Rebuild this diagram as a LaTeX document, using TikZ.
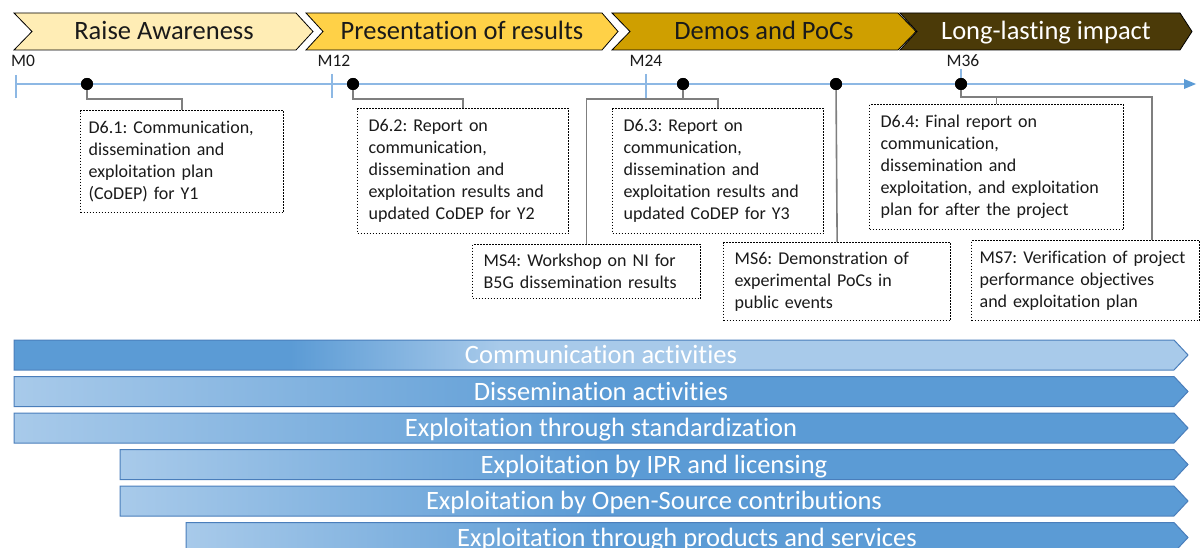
\documentclass[tikz,border=0pt]{standalone}
\usepackage{fontspec}
\setmainfont{Carlito}[Ligatures={NoCommon,NoRare,NoContextual},Contextuals=NoAlternate]
\frenchspacing
\usetikzlibrary{arrows.meta}
\definecolor{chA}{HTML}{FFEDB5}
\definecolor{chB}{HTML}{FFD147}
\definecolor{chC}{HTML}{CF9F00}
\definecolor{chD}{HTML}{4B3A08}
\definecolor{tlblue}{HTML}{8DB8E4}
\definecolor{tipblue}{HTML}{5B9BD5}
\definecolor{barD}{HTML}{5B9BD5}
\definecolor{barL}{HTML}{A8CAEA}
\definecolor{barE}{HTML}{4A7EBB}
\definecolor{conngray}{HTML}{7F7F7F}
\definecolor{txt}{HTML}{1A1A1A}
\tikzset{
  chev/.style={draw=black, line width=0.8pt},
  chevtext/.style={anchor=base, font=\fontsize{26.5}{30}\selectfont, text=txt, inner sep=0pt},
  mlabel/.style={anchor=base, font=\fontsize{17.5}{20}\selectfont, text=txt, inner sep=0pt},
  tline/.style={draw=tlblue, line width=1.2pt},
  tick/.style={draw=tlblue, line width=1.2pt},
  conn/.style={draw=conngray, line width=1.6pt},
  dotn/.style={circle, fill=black, inner sep=0pt, minimum size=12pt},
  infobox/.style={draw=black, line width=1.3pt, dash pattern=on 1.5pt off 1.5pt,
     anchor=north west, align=left, inner xsep=11pt, inner ysep=0pt,
     font=\fontsize{18}{22}\selectfont, text=txt, fill=white},
  barshape/.style 2 args={insert path={(#1,#2) -- (1174,#2) -- (1188,#2+15) -- (1174,#2+30) -- (#1,#2+30) -- cycle}},
  barline/.style={draw=barE, line width=1pt},
  bartext/.style={anchor=base, font=\fontsize{26.5}{30}\selectfont, text=white, inner sep=0pt},
}
\newcommand\actbarstd[4]{% #1 x0, #2 top, #3 name, #4 text
  \begin{scope}
    \clip[barshape={#1}{#2}];
    \fill[barD] (#1,#2) rectangle (1190,#2+30);
    \shade[left color=barL, right color=barD] (#1,#2) rectangle (600,#2+30);
  \end{scope}
  \draw[barline, barshape={#1}{#2}];
  \node[bartext] (#3) at ({(#1+1188)/2},#2+23.5) {#4};
}
\begin{document}
\begin{tikzpicture}[x=1pt,y=-1pt]
\useasboundingbox (0,0) rectangle (1200,548);
\fill[white] (0,0) rectangle (1200,548);

% chevrons
\draw[chev, fill=chA] (14,13) -- (296,13) -- (313,31.5) -- (296,50) -- (14,50) -- (32,31.5) -- cycle;
\draw[chev, fill=chB] (306,13) -- (602,13) -- (618,31.5) -- (602,50) -- (306,50) -- (323,31.5) -- cycle;
\draw[chev, fill=chC] (612,13) -- (898,13) -- (916,31.5) -- (898,50) -- (612,50) -- (630,31.5) -- cycle;
\draw[chev, fill=chD] (900,13) -- (1180,13) -- (1192,31.5) -- (1180,50) -- (900,50) -- (917,31.5) -- cycle;
\node[chevtext] (p1) at (164,40) {Raise Awareness};
\node[chevtext] (p2) at (462,40) {Presentation of results};
\node[chevtext] (p3) at (764,40) {Demos and PoCs};
\node[chevtext, text=white] (p4) at (1046,40) {Long-lasting impact};

% timeline
\coordinate (t0) at (16,84);
\coordinate (t1) at (1196,84);
\draw[tline] (t0) -- (1186,84);
\fill[tipblue] (t1) -- (1184,79) -- (1184,89) -- cycle;
\draw[tick] (16,75) -- (16,98);
\draw[tick] (332,74) -- (332,98);
\draw[tick] (646,74) -- (646,99);
\draw[tick] (961,69) -- (961,84);
\node[mlabel] (m0) at (23,67) {M0};
\node[mlabel] (m12) at (334,67) {M12};
\node[mlabel] (m24) at (646,67) {M24};
\node[mlabel] (m36) at (963,67) {M36};

% dots
\node[dotn] (d1) at (87,84) {};
\node[dotn] (d2) at (353,84) {};
\node[dotn] (d3) at (683,84) {};
\node[dotn] (d4) at (836,84) {};
\node[dotn] (d5) at (961,84) {};

% boxes
\node[infobox, inner xsep=8pt, text width=187pt, minimum height=102pt] (b1) at (80,110)
  {D6.1: Communication,\\ dissemination and\\ exploitation plan\\ (CoDEP) for Y1};
\node[infobox, text width=189pt, minimum height=125pt] (b2) at (357,108)
  {D6.2: Report on\\ communication,\\ dissemination and\\ exploitation results and\\ updated CoDEP for Y2};
\node[infobox, text width=189pt, minimum height=125pt] (b3) at (612,108)
  {D6.3: Report on\\ communication,\\ dissemination and\\ exploitation results and\\ updated CoDEP for Y3};
\node[infobox, text width=206pt, minimum height=54pt] (b4) at (472,244)
  {MS4: Workshop on NI for\\ B5G dissemination results};
\node[infobox, text width=232pt, minimum height=125pt] (b5) at (869,104)
  {D6.4: Final report on\\ communication,\\ dissemination and\\ exploitation, and exploitation\\ plan for after the project};
\node[infobox, text width=205pt, minimum height=78pt] (b6) at (723,242)
  {MS6: Demonstration of\\ experimental PoCs in\\ public events};
\node[infobox, inner xsep=8pt, text width=212pt, minimum height=80pt] (b7) at (971,240)
  {MS7: Verification of project\\ performance objectives\\ and exploitation plan};

% connectors
\coordinate (m7) at (1152,0);
\draw[conn] (d1.center) -- ++(0,15) -| (b1.north);
\draw[conn] (d2.center) -- ++(0,15) -| (b2.north);
\draw[conn] (d3.center) -- ++(0,15) coordinate (j3);
\draw[conn] (b4.north) |- (j3) -| (b3.north);
\draw[conn] (d4.center) -- (b6.north);
\draw[conn] (d5.center) -- ++(0,13) coordinate (j5) -| (m7 |- b7.north);
\draw[conn] (j5 -| b5.north) -- (b5.north);

% dots on top of the connectors
\foreach \d in {d1,d2,d3,d4,d5} \fill[black] (\d) circle (6pt);

% activity bars
\begin{scope}
  \clip[barshape={14}{340}];
  \fill[barL] (14,340) rectangle (1190,370);
  \fill[barD] (14,340) rectangle (290,370);
  \shade[left color=barD, right color=barL] (290,340) rectangle (500,370);
\end{scope}
\draw[barline, barshape={14}{340}];
\node[bartext] (a1) at (601,363.5) {Communication activities};

\actbarstd{14}{376.5}{a2}{Dissemination activities}
\actbarstd{14}{413}{a3}{Exploitation through standardization}
\actbarstd{120}{449.5}{a4}{Exploitation by IPR and licensing}
\actbarstd{120}{486}{a5}{Exploitation by Open-Source contributions}
\actbarstd{186}{522.5}{a6}{Exploitation through products and services}
\end{tikzpicture}
\end{document}
